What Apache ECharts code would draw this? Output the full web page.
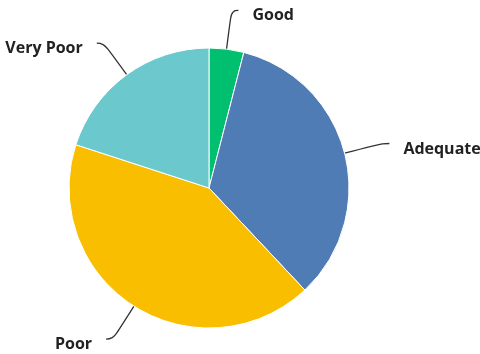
<!DOCTYPE html>
<html>
<head>
<meta charset="utf-8">
<style>
  html, body { margin: 0; padding: 0; background: #fff; }
  #chart { width: 480px; height: 354px; }
</style>
<script src="https://cdn.jsdelivr.net/npm/echarts@6/dist/echarts.min.js"></script>
</head>
<body>
<div id="chart"></div>
<script>
// Response categories and their share of answers (percent)
const categories = ['Good', 'Adequate', 'Poor', 'Very Poor'];
const values = [4, 34, 42, 20];
const colors = ['#00BF6F', '#507CB6', '#F9BE00', '#6BC8CD'];

const chart = echarts.init(document.getElementById('chart'), null, { renderer: 'canvas' });

chart.setOption({
  animation: false,
  series: [{
    type: 'pie',
    center: [209, 188],
    radius: 140,
    startAngle: 90,
    clockwise: true,
    avoidLabelOverlap: false,
    data: categories.map((name, i) => ({
      name,
      value: values[i],
      itemStyle: { color: colors[i] }
    })),
    itemStyle: { borderColor: '#ffffff', borderWidth: 1 },
    label: {
      show: true,
      position: 'outside',
      alignTo: 'none',
      overflow: 'none',
      // an empty first line nudges the name slightly below the line end
      formatter: '\n{b}',
      lineHeight: 11,
      fontFamily: 'Open Sans',
      fontWeight: 'bold',
      fontSize: 16,
      color: '#222',
      distanceToLabelLine: 14
    },
    labelLine: {
      show: true,
      smooth: 0.5,
      length: 39,
      length2: 7,
      lineStyle: { color: '#333', width: 1.3 }
    }
  }]
});
</script>
</body>
</html>
